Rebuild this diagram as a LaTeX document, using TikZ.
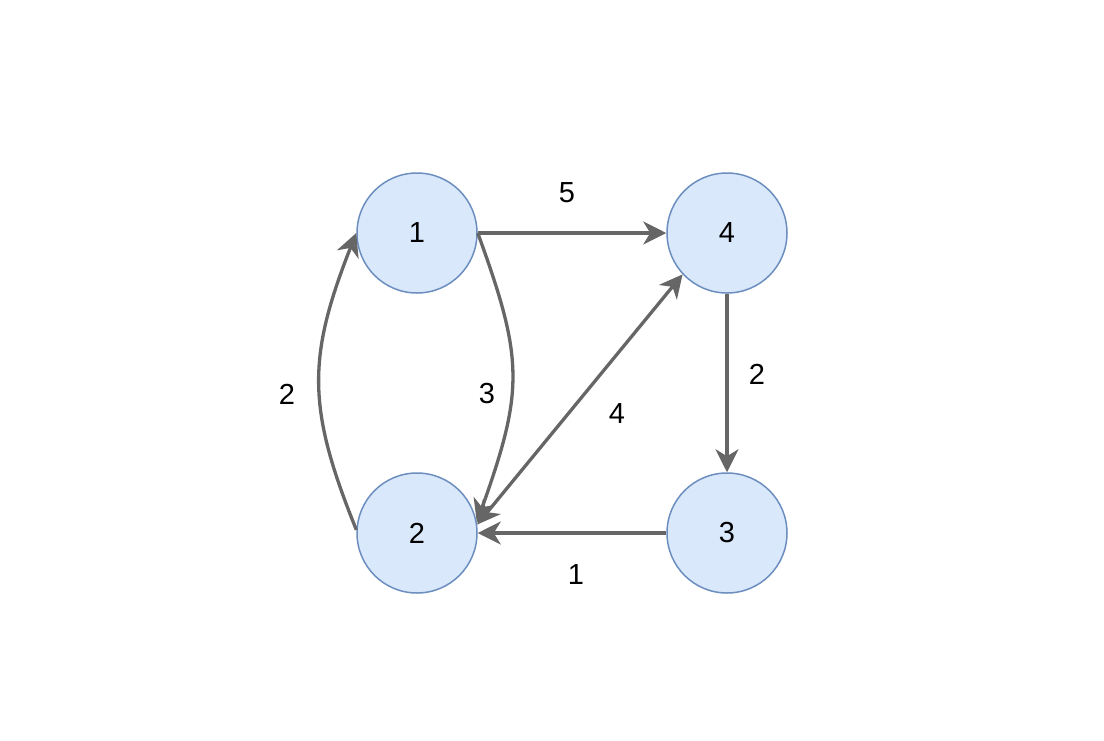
\documentclass[tikz,border=0pt]{standalone}
\usepackage{fontspec}
\setmainfont{Liberation Sans}
\usetikzlibrary{arrows.meta}
\definecolor{nodefill}{HTML}{DAE8FC}
\definecolor{nodeline}{HTML}{6C8EBF}
\definecolor{edgecol}{HTML}{666666}
\tikzset{
  vertex/.style={circle, draw=nodeline, fill=nodefill, line width=1.5pt, minimum size=120pt, inner sep=0pt, font=\fontsize{29}{34}\selectfont},
  edge/.style={draw=edgecol, line width=3.3pt, -{Stealth[length=23pt,width=23pt,inset=7pt]}},
  dedge/.style={draw=edgecol, line width=3.3pt, {Stealth[length=23pt,width=23pt,inset=7pt]}-{Stealth[length=23pt,width=23pt,inset=7pt]}},
  wlabel/.style={font=\fontsize{29}{34}\selectfont, inner sep=0pt}
}
\begin{document}
\begin{tikzpicture}[x=1pt,y=-1pt]
\fill[white] (0,0) rectangle (1104,740);
\useasboundingbox (0,0) rectangle (1104,740);
\node[vertex] (n1) at (417,233) {1};
\node[vertex] (n4) at (727,233) {4};
\node[vertex] (n2) at (417,533) {2};
\node[vertex] (n3) at (727,533) {3};
\draw[edge] (n1.east) -- (n4.west);
\draw[edge] (n4.south) -- (n3.north);
\draw[edge] (n3.west) -- (n2.east);
\draw[dedge] (n2.8) -- (n4.223);
\draw[edge] (n2.177) .. controls (307,408) and (307,358) .. (n1.180);
\draw[edge] (n1.east) .. controls (524,360) and (524,390) .. (n2.10);
\node[wlabel] (l5) at (567,193) {5};
\node[wlabel] (l2a) at (757,374) {2};
\node[wlabel] (l1) at (576,575) {1};
\node[wlabel] (l4) at (617,414) {4};
\node[wlabel] (l2b) at (287,394) {2};
\node[wlabel] (l3) at (487,394) {3};
\end{tikzpicture}
\end{document}
